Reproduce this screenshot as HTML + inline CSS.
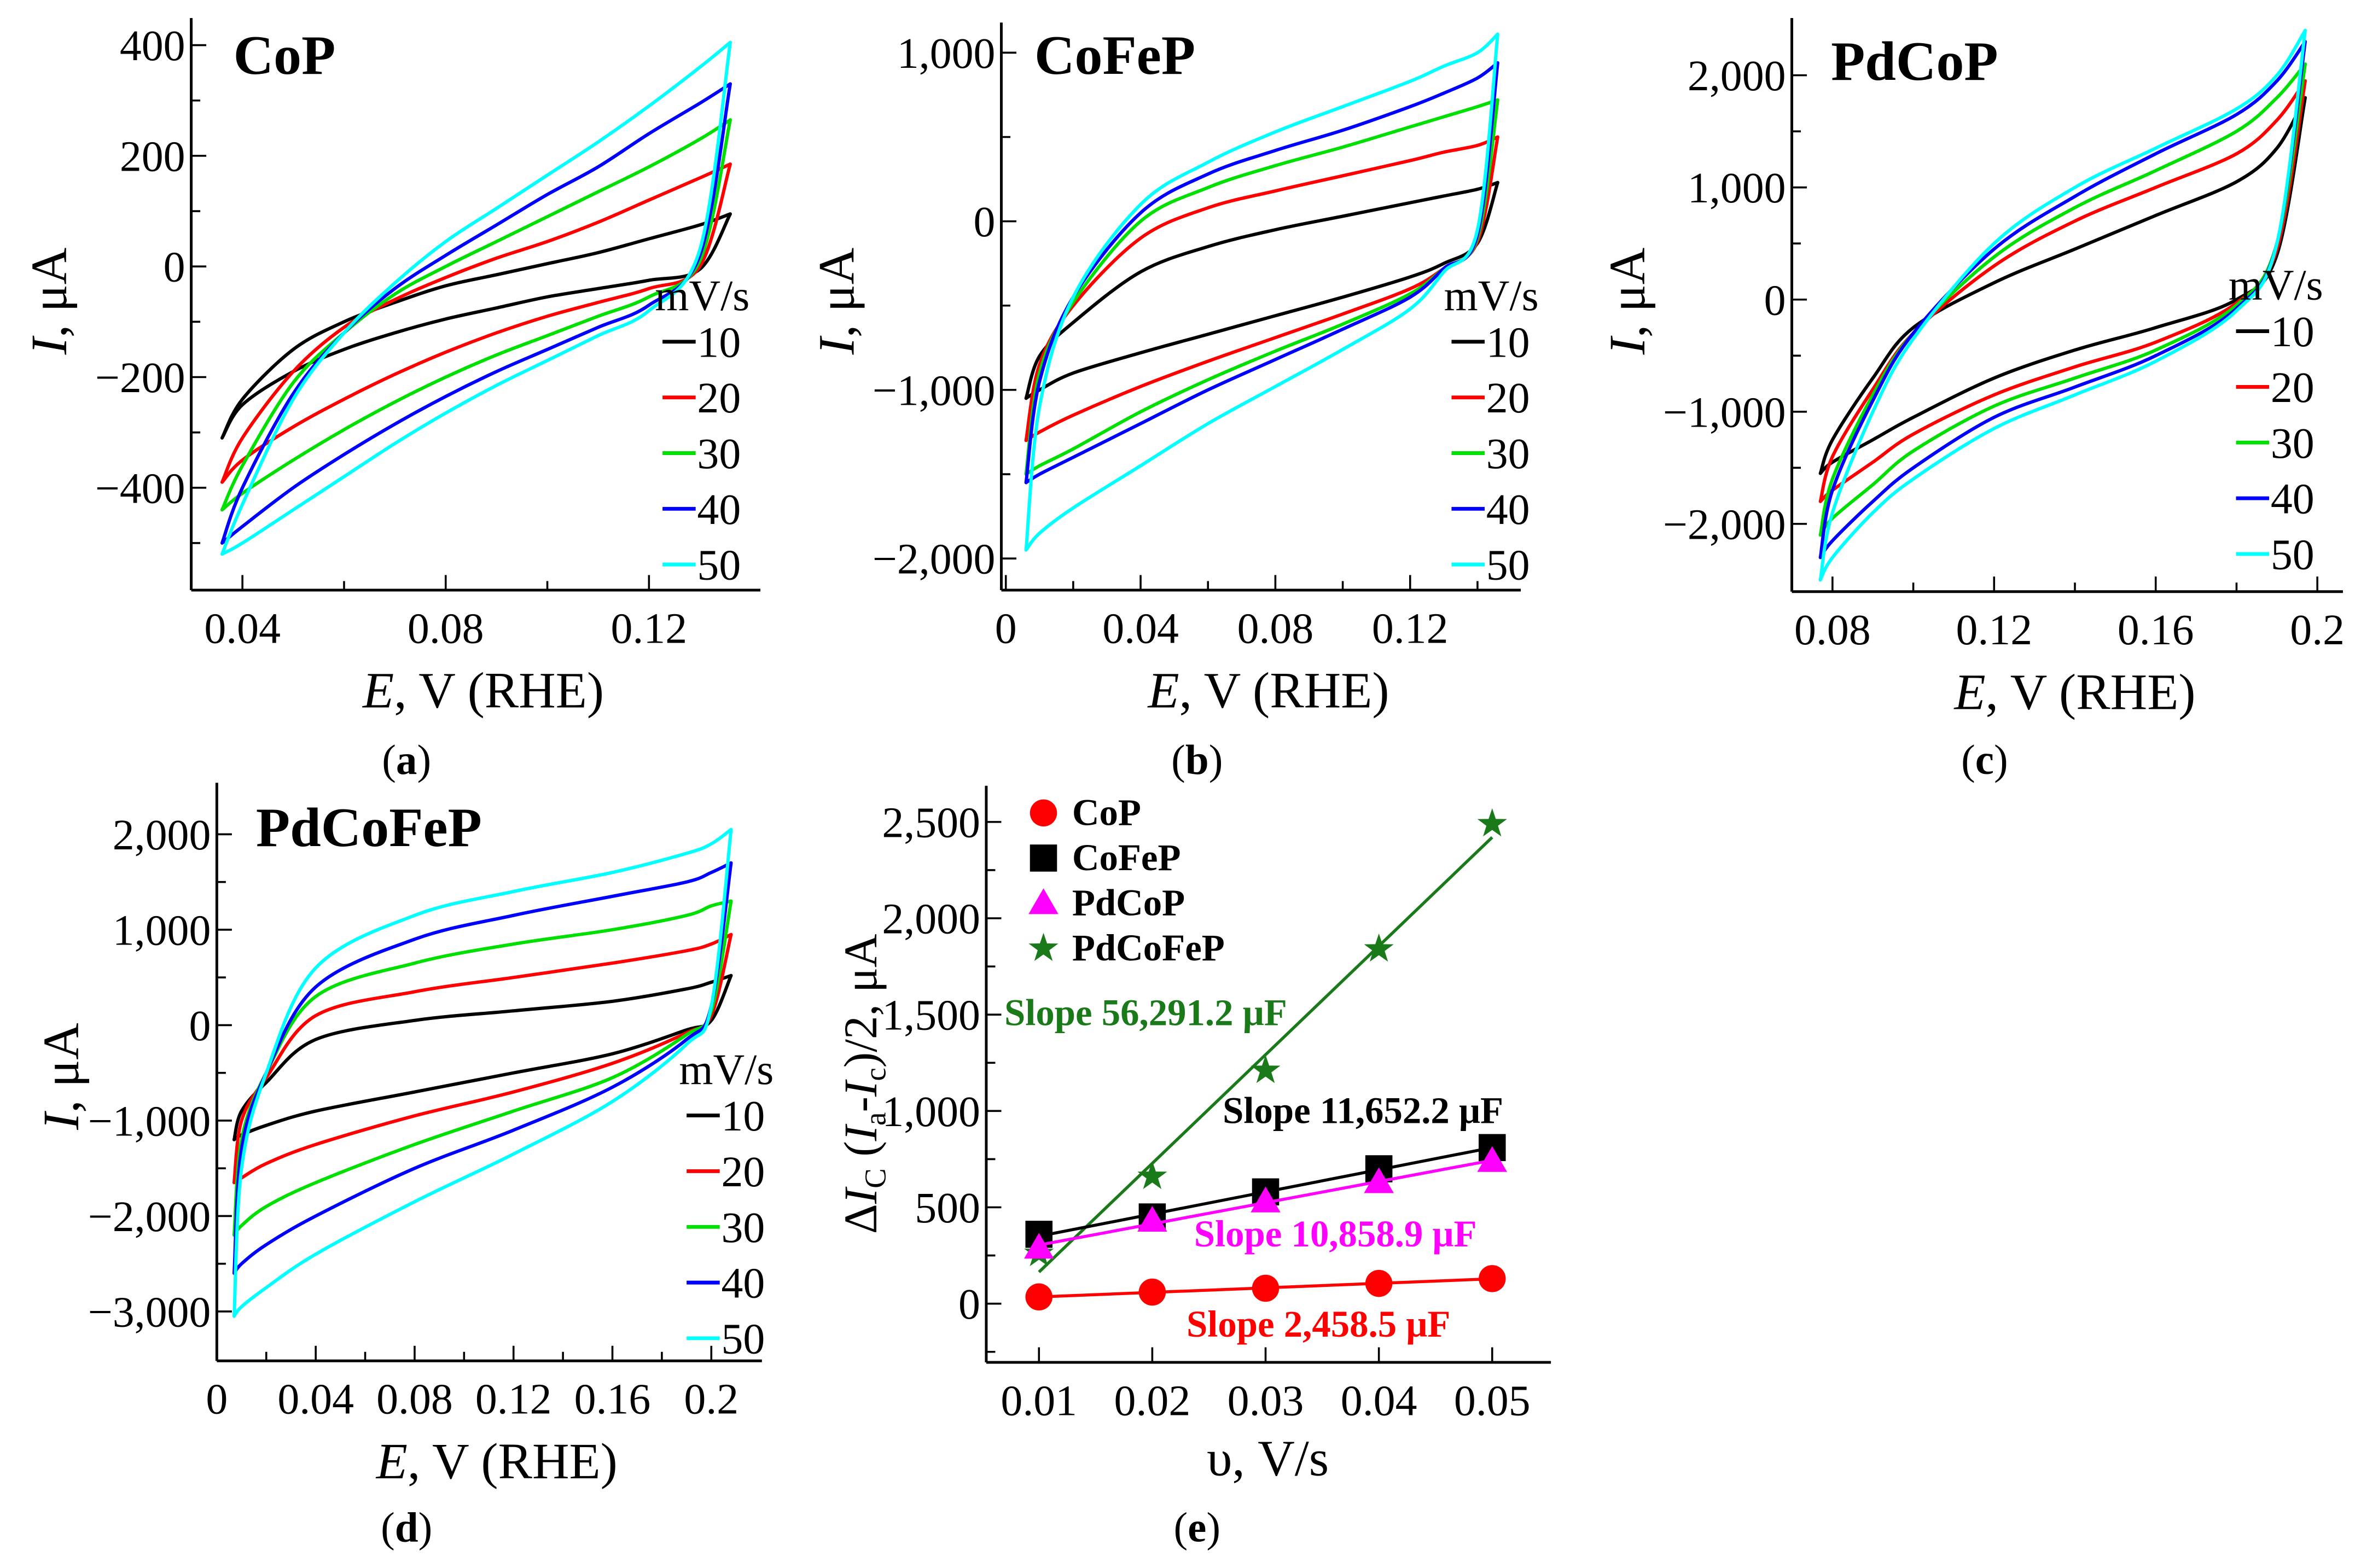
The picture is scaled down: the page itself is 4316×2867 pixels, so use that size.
<!DOCTYPE html>
<html><head><meta charset="utf-8"><style>
html,body{margin:0;padding:0;background:#fff;}
svg{display:block;font-family:"Liberation Serif",serif;}
</style></head><body>
<svg id="fig" xmlns="http://www.w3.org/2000/svg" width="4316" height="2867" viewBox="0 0 1568 1041.6" preserveAspectRatio="none"></svg>
<script>
// ---------- DATA ----------
const rates = ["10","20","30","40","50"];
const colors = ["#000000","#ff0000","#00e000","#0000ff","#00ffff"];
// Panel a: CoP
const aE = [0.036,0.04,0.05,0.06,0.07,0.08,0.09,0.10,0.11,0.12,0.13,0.136];
const aUp = [
 [-310,-240,-150,-100,-65,-35,-15,5,25,50,75,95],
 [-390,-310,-190,-110,-60,-20,15,45,80,120,160,185],
 [-440,-360,-210,-120,-50,0,45,90,135,180,230,265],
 [-500,-400,-230,-120,-40,20,75,130,180,240,295,330],
 [-520,-430,-240,-120,-30,45,105,165,225,290,360,405]];
const aDn = [
 [-310,-250,-190,-150,-120,-95,-75,-55,-40,-25,-5,95],
 [-390,-350,-290,-240,-195,-155,-120,-90,-65,-40,0,185],
 [-440,-410,-350,-295,-245,-200,-160,-125,-90,-55,10,265],
 [-500,-470,-400,-340,-285,-235,-190,-150,-110,-70,20,330],
 [-520,-500,-440,-380,-320,-265,-215,-170,-125,-80,30,405]];
// Panel b: CoFeP
const bE = [0.006,0.01,0.02,0.04,0.06,0.08,0.10,0.12,0.13,0.14,0.146];
const bUp = [
 [-1050,-800,-600,-300,-150,-50,30,110,150,190,230],
 [-1300,-850,-500,-100,80,180,270,360,410,450,500],
 [-1500,-900,-480,0,200,330,440,560,620,680,720],
 [-1550,-950,-450,50,280,420,540,680,760,850,940],
 [-1950,-1100,-450,100,350,530,680,830,920,1000,1110]];
const bDn = [
 [-1050,-1000,-900,-780,-670,-560,-450,-330,-250,-130,230],
 [-1300,-1250,-1150,-980,-830,-690,-550,-400,-280,-120,500],
 [-1500,-1450,-1350,-1130,-940,-770,-610,-430,-280,-100,720],
 [-1550,-1500,-1400,-1200,-1000,-820,-640,-450,-280,-80,940],
 [-1950,-1850,-1700,-1450,-1200,-980,-760,-520,-300,-50,1110]];
// Panel c: PdCoP
const cE = [0.077,0.08,0.09,0.10,0.12,0.14,0.16,0.18,0.19,0.197];
const cUp = [
 [-1550,-1250,-700,-250,150,450,750,1050,1350,1800],
 [-1800,-1400,-800,-300,300,700,1000,1300,1600,1950],
 [-2100,-1600,-850,-300,380,820,1150,1500,1800,2100],
 [-2300,-1700,-900,-300,450,920,1300,1650,1950,2300],
 [-2500,-1900,-1000,-350,500,1000,1350,1700,2000,2400]];
const cDn = [
 [-1550,-1450,-1250,-1050,-700,-450,-250,0,400,1800],
 [-1800,-1700,-1450,-1200,-850,-600,-380,-30,450,1950],
 [-2100,-1950,-1650,-1350,-950,-700,-450,-50,500,2100],
 [-2300,-2150,-1800,-1500,-1050,-780,-500,-80,500,2300],
 [-2500,-2300,-1900,-1600,-1150,-850,-550,-100,500,2400]];
// Panel d: PdCoFeP
const dE = [0.007,0.01,0.02,0.04,0.08,0.12,0.16,0.19,0.20,0.208];
const dUp = [
 [-1200,-900,-600,-150,50,150,250,380,450,520],
 [-1650,-1000,-550,100,350,500,650,780,850,950],
 [-2200,-1200,-500,300,650,850,1000,1150,1250,1300],
 [-2600,-1300,-500,400,900,1150,1350,1500,1600,1700],
 [-3050,-1500,-500,600,1150,1400,1600,1800,1900,2050]];
const dDn = [
 [-1200,-1150,-1050,-900,-700,-500,-300,-50,50,520],
 [-1650,-1600,-1450,-1250,-950,-700,-400,-80,100,950],
 [-2200,-2100,-1900,-1650,-1250,-900,-550,-100,150,1300],
 [-2600,-2500,-2300,-2000,-1500,-1100,-650,-150,200,1700],
 [-3050,-2950,-2750,-2400,-1850,-1350,-800,-200,200,2050]];
// Panel e
const eRates = [0.01,0.02,0.03,0.04,0.05];
const eCoP = [35,60,80,105,130];
const eCoFeP = [360,450,580,700,810];
const ePdCoP = [290,430,530,630,740];
const ePdCoFeP = [260,660,1210,1840,2490];
const eSlopes = ["Slope 2,458.5 μF","Slope 11,652.2 μF","Slope 10,858.9 μF","Slope 56,291.2 μF"];

// ---------- DRAWING ----------
const NS="http://www.w3.org/2000/svg";
const svg=document.getElementById('fig');
const TF=29;
function el(tag,attrs,parent,txt){const e=document.createElementNS(NS,tag);for(const k in attrs)e.setAttribute(k,attrs[k]);if(txt!==undefined)e.textContent=txt;(parent||svg).appendChild(e);return e;}
function lin(d0,d1,p0,p1){return v=>p0+(v-d0)*(p1-p0)/(d1-d0);}
function smooth(pts){let d="M"+pts[0][0].toFixed(2)+","+pts[0][1].toFixed(2);
 for(let i=0;i<pts.length-1;i++){const p0=pts[Math.max(0,i-1)],p1=pts[i],p2=pts[i+1],p3=pts[Math.min(pts.length-1,i+2)];
  const c1=[p1[0]+(p2[0]-p0[0])/6,p1[1]+(p2[1]-p0[1])/6],c2=[p2[0]-(p3[0]-p1[0])/6,p2[1]-(p3[1]-p1[1])/6];
  d+=" C"+c1[0].toFixed(2)+","+c1[1].toFixed(2)+" "+c2[0].toFixed(2)+","+c2[1].toFixed(2)+" "+p2[0].toFixed(2)+","+p2[1].toFixed(2);}
 return d;}
function fmt(v){return (v<0?"\u2212":"")+Math.abs(v).toLocaleString('en-US');}

function axes(g,o){
 el('line',{x1:o.L,y1:o.B,x2:o.R,y2:o.B,stroke:'#000','stroke-width':1.8},g);
 el('line',{x1:o.L,y1:o.B,x2:o.L,y2:o.T,stroke:'#000','stroke-width':1.8},g);
 o.xt.forEach(t=>{const x=o.x(t);el('line',{x1:x,y1:o.B,x2:x,y2:o.B-10,stroke:'#000','stroke-width':1.3},g);
  const tx=el('text',{x:x,y:o.B+35,'font-size':TF,'text-anchor':'middle'},g,o.xf(t));
  
  });
 (o.xm||[]).forEach(t=>{const x=o.x(t);el('line',{x1:x,y1:o.B,x2:x,y2:o.B-6,stroke:'#000','stroke-width':1.3},g);});
 o.yt.forEach(t=>{const y=o.y(t);el('line',{x1:o.L,y1:y,x2:o.L+10,y2:y,stroke:'#000','stroke-width':1.3},g);
  const tx=el('text',{x:o.L-4,y:y+10,'font-size':TF,'text-anchor':'end'},g,fmt(t));
  
  });
 (o.ym||[]).forEach(t=>{const y=o.y(t);el('line',{x1:o.L,y1:y,x2:o.L+6,y2:y,stroke:'#000','stroke-width':1.3},g);});
}
function cvPanel(name,o,E,U,D,title,leg,sub){
 const g=el('g',{});
 
 
 axes(g,o);
 for(let s=0;s<5;s++){
  const up=E.map((e,i)=>[o.x(e),o.y(U[s][i])]);
  const dn=E.map((e,i)=>[o.x(e),o.y(D[s][i])]).reverse();
  const p=el('path',{d:smooth(up)+" "+smooth(dn).replace(/^M/,'L')+" Z",fill:'none',stroke:colors[s],'stroke-width':2.2,'stroke-linejoin':'round'},g);
  
  
 }
 const t=el('text',{x:title[0],y:title[1],'font-size':37,'font-weight':'bold'},g,title[2]);
 
 
 const lh=el('text',{x:leg[0]-5,y:leg[1]+9,'font-size':TF},g,"mV/s");
 
 
 for(let s=0;s<5;s++){const y=leg[1]+30+s*37;
  el('line',{x1:leg[0],y1:y,x2:leg[0]+22,y2:y,stroke:colors[s],'stroke-width':2.5},g);
  const lt=el('text',{x:leg[0]+23,y:y+10,'font-size':TF},g,rates[s]);
  
  }
 const yl=el('text',{transform:`translate(${o.yl[0]},${o.yl[1]}) rotate(-90)`,'font-size':34,'text-anchor':'middle'},g);
 
 
 el('tspan',{'font-style':'italic'},yl,"I");el('tspan',{},yl,", μA");
 const xl=el('text',{x:(o.L+o.R)/2+5,y:o.B+78,'font-size':34,'text-anchor':'middle'},g);
 
 
 el('tspan',{'font-style':'italic'},xl,"E");el('tspan',{},xl,", V (RHE)");
 const sl=el('text',{x:sub[0],y:sub[1],'font-size':28,'text-anchor':'middle'},g);
 
 
 el('tspan',{},sl,"(");el('tspan',{'font-weight':'bold'},sl,sub[2]);el('tspan',{},sl,")");
}
// panel a
cvPanel('panel-a-cop',{L:127,R:505,T:12,B:392,x:lin(0.04,0.12,161,431),y:lin(0,400,177,30),
 xt:[0.04,0.08,0.12],xm:[0.06,0.10],xf:v=>v.toFixed(2),yt:[400,200,0,-200,-400],ym:[300,100,-100,-300,-500],yl:[44,200]},
 aE,aUp,aDn,[155,49,"CoP"],[440,197],[270,514,"a"]);
// panel b
cvPanel('panel-b-cofep',{L:665,R:1010,T:15,B:392,x:lin(0,0.12,668,936.5),y:lin(0,1000,147,35),
 xt:[0,0.04,0.08,0.12],xm:[0.02,0.06,0.10,0.14],xf:v=>v===0?"0":v.toFixed(2),yt:[1000,0,-1000,-2000],ym:[500,-500,-1500],yl:[567,200]},
 bE,bUp,bDn,[687,49,"CoFeP"],[964,197],[795,514,"b"]);
// panel c
cvPanel('panel-c-pdcop',{L:1190,R:1556,T:12,B:393,x:lin(0.08,0.2,1217,1539),y:lin(0,2000,199,50),
 xt:[0.08,0.12,0.16,0.2],xm:[0.10,0.14,0.18],xf:v=>v===0.2?"0.2":v.toFixed(2),yt:[2000,1000,0,-1000,-2000],ym:[1500,500,-500,-1500],yl:[1092,200]},
 cE,cUp,cDn,[1216,53,"PdCoP"],[1485,190],[1318,514,"c"]);
// panel d
cvPanel('panel-d-pdcofep',{L:144,R:506,T:520,B:904,x:lin(0,0.2,144,472.4),y:lin(0,2000,681,554.2),
 xt:[0,0.04,0.08,0.12,0.16,0.2],xm:[0.02,0.06,0.10,0.14,0.18],xf:v=>v===0?"0":(v===0.2?"0.2":v.toFixed(2)),yt:[2000,1000,0,-1000,-2000,-3000],ym:[1500,500,-500,-1500,-2500],yl:[52,715]},
 dE,dUp,dDn,[170,562,"PdCoFeP"],[456,711],[270,1024,"d"]);

// panel e
(function(){
 const g=el('g',{});
 
 
 const o={L:655,R:1030,T:522,B:905,x:lin(0.01,0.05,690,991),y:lin(0,2500,866,546),
  xt:[0.01,0.02,0.03,0.04,0.05],xm:[],xf:v=>v.toFixed(2),yt:[2500,2000,1500,1000,500,0],ym:[2250,1750,1250,750,250,-250]};
 axes(g,o);
 const series=[[eCoP,'#ff0000','circle'],[eCoFeP,'#000000','square'],[ePdCoP,'#ff00ff','triangle'],[ePdCoFeP,'#1a7a1a','star']];
 const labels=["CoP","CoFeP","PdCoP","PdCoFeP"];
 function marker(kind,x,y,c,parent,r){
  if(kind==='circle')return el('circle',{cx:x,cy:y,r:r,fill:c},parent);
  if(kind==='square')return el('rect',{x:x-r,y:y-r,width:2*r,height:2*r,fill:c},parent);
  if(kind==='triangle')return el('polygon',{points:`${x},${y-r*1.1} ${x+r*1.1},${y+r*0.8} ${x-r*1.1},${y+r*0.8}`,fill:c},parent);
  let p=[];for(let i=0;i<10;i++){const a=-Math.PI/2+i*Math.PI/5,rr=i%2?r*0.45:r*1.15;p.push((x+rr*Math.cos(a)).toFixed(2)+","+(y+rr*Math.sin(a)).toFixed(2));}
  return el('polygon',{points:p.join(' '),fill:c},parent);
 }
 const drawOrder=[3,1,2,0];
 drawOrder.forEach(si=>{const [vals,c,kind]=series[si];
  const n=eRates.length,mx=eRates.reduce((a,b)=>a+b)/n,my=vals.reduce((a,b)=>a+b)/n;
  let sxy=0,sxx=0;eRates.forEach((x,i)=>{sxy+=(x-mx)*(vals[i]-my);sxx+=(x-mx)*(x-mx);});
  const m=sxy/sxx,b=my-m*mx;
  const ln=el('line',{x1:o.x(eRates[0]),y1:o.y(m*eRates[0]+b),x2:o.x(eRates[n-1]),y2:o.y(m*eRates[n-1]+b),stroke:c,'stroke-width':2},g);
  
  
  eRates.forEach((x,i)=>{const mk=marker(kind,o.x(x),o.y(vals[i]),c,g,9);
   
   });
 });
 series.forEach((s,i)=>{const y=540+i*30;marker(s[2],693,y,s[1],g,9);
  const t=el('text',{x:712,y:y+8,'font-size':25,'font-weight':'bold'},g,labels[i]);
  
  });
 const sp=[[788,888,'#ff0000',0],[812,746,'#000000',1],[793,828,'#ff00ff',2],[667,681,'#1a7a1a',3]];
 sp.forEach(s=>{const t=el('text',{x:s[0],y:s[1],'font-size':25,'font-weight':'bold',fill:s[2]},g,eSlopes[s[3]]);
  
  });
 const yl=el('text',{transform:`translate(582,720) rotate(-90)`,'font-size':31,'text-anchor':'middle'},g);
 
 
 el('tspan',{},yl,"Δ");el('tspan',{'font-style':'italic'},yl,"I");el('tspan',{'font-size':20,dy:6},yl,"C");
 el('tspan',{dy:-6},yl," (");el('tspan',{'font-style':'italic'},yl,"I");el('tspan',{'font-size':20,dy:6},yl,"a");
 el('tspan',{dy:-6},yl,"-");el('tspan',{'font-style':'italic'},yl,"I");el('tspan',{'font-size':20,dy:6},yl,"c");
 el('tspan',{dy:-6},yl,")/2, μA");
 const xl=el('text',{x:842,y:980,'font-size':34,'text-anchor':'middle'},g,"υ, V/s");
 
 
 const sl=el('text',{x:795,y:1024,'font-size':28,'text-anchor':'middle'},g);
 
 
 el('tspan',{},sl,"(");el('tspan',{'font-weight':'bold'},sl,"e");el('tspan',{},sl,")");
})();
</script>
</body></html>
